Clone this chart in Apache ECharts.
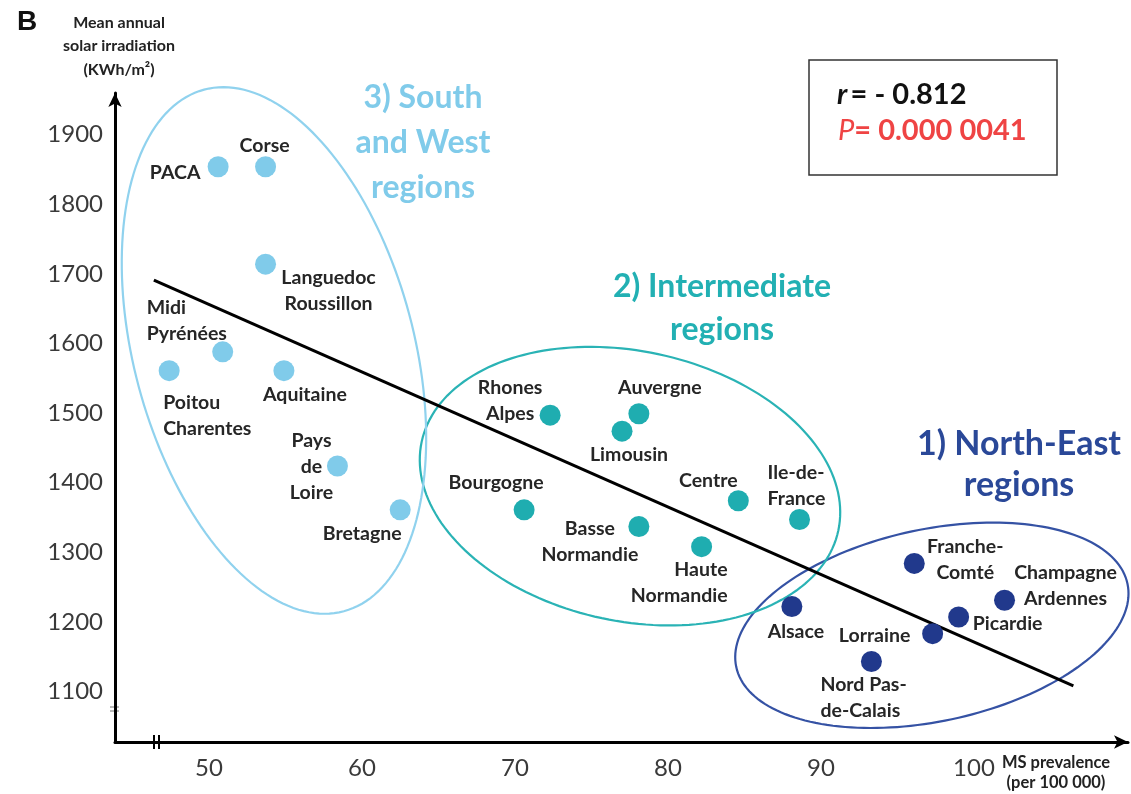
<!DOCTYPE html>
<html>
<head>
<meta charset="utf-8">
<script src="https://cdn.jsdelivr.net/npm/echarts@6/dist/echarts.min.js"></script>
<style>
  html, body { margin: 0; padding: 0; background: #ffffff; }
  #chart { width: 1131px; height: 794px; }
</style>
</head>
<body>
<div id="chart"></div>
<script>
// ---- Data: MS prevalence (per 100 000) vs mean annual solar irradiation (kWh/m²) ----
// 1) North-East regions
const neNames = ['Franche-\nComté', 'Alsace', 'Champagne\nArdennes', 'Picardie', 'Lorraine', 'Nord Pas-\nde-Calais'];
const nePrevalence = [96.1, 88.1, 102.0, 99.0, 97.3, 93.3];
const neIrradiation = [1284, 1222, 1231, 1207, 1183, 1143];

// 2) Intermediate regions
const midNames = ['Rhones\nAlpes', 'Auvergne', 'Limousin', 'Bourgogne', 'Basse\nNormandie', 'Haute\nNormandie', 'Centre', 'Ile-de-\nFrance'];
const midPrevalence = [72.3, 78.1, 77.0, 70.6, 78.1, 82.2, 84.6, 88.6];
const midIrradiation = [1497, 1499, 1474, 1361, 1337, 1308, 1374, 1347];

// 3) South and West regions
const swNames = ['PACA', 'Corse', 'Languedoc\nRoussillon', 'Midi\nPyrénées', 'Poitou\nCharentes', 'Aquitaine', 'Pays\nde\nLoire', 'Bretagne'];
const swPrevalence = [50.6, 53.7, 53.7, 50.9, 47.4, 54.9, 58.4, 62.5];
const swIrradiation = [1854, 1854, 1714, 1588, 1561, 1561, 1424, 1361];

// Regression line end points
const fitPrevalence = [46.4, 106.5];
const fitIrradiation = [1691, 1108];

// Correlation statistics
const statR = '- 0.812';
const statP = '0.000 0041';

// Tick labels
const xTicks = [50, 60, 70, 80, 90, 100];
const yTicks = [1100, 1200, 1300, 1400, 1500, 1600, 1700, 1800, 1900];

// Cluster outlines: centre in axis units
const clusterCentreX = [97.25, 77.52, 54.25];
const clusterCentreY = [1195, 1395, 1590];

// ---- Layout / styling ----
const FONT = 'Lato, "Open Sans", sans-serif';
const colNE = '#21398c', colMid = '#1fadb0', colSW = '#80cbea';
const outlineStyle = [
  { rx: 200, ry: 96, tilt: -12, color: '#3552a4' },
  { rx: 213, ry: 135, tilt: 12, color: '#2ab3b5' },
  { rx: 140, ry: 270, tilt: -15, color: '#90d2ee' }
];

// label placement per region: [align, dx, dy] relative to the dot centre
const labelPlacement = {
  'PACA': ['center', -43, 6],
  'Corse': ['center', -1, -21],
  'Languedoc\nRoussillon': ['center', 63, 27],
  'Midi\nPyrénées': ['left', -76, -31],
  'Poitou\nCharentes': ['left', -6, 45],
  'Aquitaine': ['center', 21, 24],
  'Pays\nde\nLoire': ['center', -26, 1],
  'Bretagne': ['center', -38, 24],
  'Rhones\nAlpes': ['center', -40, -14],
  'Auvergne': ['center', 21, -26],
  'Limousin': ['center', 7, 24],
  'Bourgogne': ['center', -28, -27],
  'Basse\nNormandie': ['center', -49, 15],
  'Haute\nNormandie': ['right', 26, 36],
  'Centre': ['center', -30, -20],
  'Ile-de-\nFrance': ['left', -32, -34],
  'Alsace': ['center', 4, 25],
  'Lorraine': ['center', -58, 2],
  'Nord Pas-\nde-Calais': ['left', -51, 36],
  'Franche-\nComté': ['center', 51, -4],
  'Champagne\nArdennes': ['center', 61, -15],
  'Picardie': ['center', 49, 7]
};

function buildPoints(names, xs, ys) {
  return names.map((n, i) => {
    const p = labelPlacement[n] || ['center', 0, -22];
    return {
      name: n,
      value: [xs[i], ys[i]],
      label: { position: 'inside', align: p[0], verticalAlign: 'middle', offset: [p[1], p[2]] }
    };
  });
}

function scatterSeries(names, xs, ys, color) {
  return {
    type: 'scatter',
    z: 4,
    symbol: 'circle',
    symbolSize: 21,
    itemStyle: { color: color, opacity: 1 },
    label: {
      show: true,
      formatter: '{b}',
      fontFamily: FONT,
      fontWeight: 'bold',
      fontSize: 19.5,
      lineHeight: 26,
      color: '#262626'
    },
    emphasis: { disabled: true },
    data: buildPoints(names, xs, ys)
  };
}

function outlineItem(params, api) {
  const o = outlineStyle[params.dataIndex];
  const c = api.coord([api.value(0), api.value(1)]);
  const t = o.tilt * Math.PI / 180;
  const pts = [];
  for (let i = 0; i <= 180; i++) {
    const a = i / 180 * Math.PI * 2;
    const ex = o.rx * Math.cos(a), ey = o.ry * Math.sin(a);
    pts.push([c[0] + ex * Math.cos(t) - ey * Math.sin(t), c[1] + ex * Math.sin(t) + ey * Math.cos(t)]);
  }
  return {
    type: 'polyline',
    shape: { points: pts },
    style: { fill: null, stroke: o.color, lineWidth: 2.2 },
    silent: true
  };
}

const chart = echarts.init(document.getElementById('chart'), null, { renderer: 'canvas' });

const axisLabelBase = { fontFamily: FONT, fontSize: 24, color: '#3a3a3a', hideOverlap: false, formatter: v => String(v) };

chart.setOption({
  animation: false,
  backgroundColor: '#ffffff',
  grid: { left: 115, right: 3, top: 93, bottom: 52, containLabel: false },
  xAxis: {
    type: 'value',
    min: 43.86,
    max: 110.07,
    axisLine: { show: true, onZero: false, lineStyle: { color: '#000', width: 3 }, symbol: ['none', 'arrow'], symbolSize: [10, 14] },
    axisTick: { show: false },
    splitLine: { show: false },
    axisLabel: Object.assign({ customValues: xTicks, margin: 14 }, axisLabelBase)
  },
  yAxis: {
    type: 'value',
    min: 1027.3,
    max: 1960,
    axisLine: { show: true, onZero: false, lineStyle: { color: '#000', width: 3 }, symbol: ['none', 'arrow'], symbolSize: [10, 14] },
    axisTick: { show: false },
    splitLine: { show: false },
    axisLabel: Object.assign({ customValues: yTicks, margin: 12 }, axisLabelBase)
  },
  series: [
    {
      type: 'custom',
      z: 1,
      renderItem: outlineItem,
      silent: true,
      data: clusterCentreX.map((x, i) => [x, clusterCentreY[i]])
    },
    {
      type: 'line',
      z: 2,
      symbol: 'none',
      silent: true,
      lineStyle: { color: '#000', width: 3 },
      data: fitPrevalence.map((x, i) => [x, fitIrradiation[i]])
    },
    scatterSeries(neNames, nePrevalence, neIrradiation, colNE),
    scatterSeries(midNames, midPrevalence, midIrradiation, colMid),
    scatterSeries(swNames, swPrevalence, swIrradiation, colSW)
  ],
  graphic: [
    // panel letter
    { type: 'text', x: 17, y: 22, style: { text: 'B', font: 'bold 28px Arial, "Liberation Sans", sans-serif', fill: '#111', verticalAlign: 'middle' } },
    // axis titles
    { type: 'text', x: 119, y: 46, style: { text: 'Mean annual\nsolar irradiation\n(KWh/m²)', fontFamily: FONT, fontWeight: 'bold', fontSize: 16, lineHeight: 23.5, fill: '#222', align: 'center', verticalAlign: 'middle' } },
    { type: 'text', x: 1056, y: 773, style: { text: 'MS prevalence\n(per 100 000)', fontFamily: FONT, fontWeight: 'bold', fontSize: 16.5, lineHeight: 20, fill: '#222', align: 'center', verticalAlign: 'middle' } },
    // axis break marks
    { type: 'line', shape: { x1: 154, y1: 735, x2: 154, y2: 749 }, style: { stroke: '#000', lineWidth: 2 } },
    { type: 'line', shape: { x1: 159, y1: 735, x2: 159, y2: 749 }, style: { stroke: '#000', lineWidth: 2 } },
    { type: 'line', shape: { x1: 110, y1: 707, x2: 119, y2: 707 }, style: { stroke: '#777', lineWidth: 1 } },
    { type: 'line', shape: { x1: 110, y1: 711, x2: 119, y2: 711 }, style: { stroke: '#777', lineWidth: 1 } },
    // cluster titles
    { type: 'text', x: 423, y: 143, style: { text: '3) South\nand West\nregions', fontFamily: FONT, fontWeight: 'bold', fontSize: 32, lineHeight: 45, fill: colSW, align: 'center', verticalAlign: 'middle' } },
    { type: 'text', x: 722, y: 308, style: { text: '2) Intermediate\nregions', fontFamily: FONT, fontWeight: 'bold', fontSize: 32, lineHeight: 43, fill: '#22b0b3', align: 'center', verticalAlign: 'middle' } },
    { type: 'text', x: 1019, y: 465, style: { text: '1) North-East\nregions', fontFamily: FONT, fontWeight: 'bold', fontSize: 34, lineHeight: 41, fill: '#2a4898', align: 'center', verticalAlign: 'middle' } },
    // statistics box
    { type: 'rect', shape: { x: 809, y: 60, width: 248, height: 115 }, style: { fill: '#fff', stroke: '#333', lineWidth: 1.5 } },
    { type: 'text', x: 837, y: 95, style: {
        text: '{i|r} {b|= ' + statR + '}',
        verticalAlign: 'middle',
        rich: {
          i: { fontFamily: FONT, fontWeight: 'bold', fontStyle: 'italic', fontSize: 29, fill: '#111' },
          b: { fontFamily: FONT, fontWeight: 'bold', fontSize: 29, fill: '#111' }
        } } },
    { type: 'text', x: 838, y: 131, style: {
        text: '{i|P}{b|= ' + statP + '}',
        verticalAlign: 'middle',
        rich: {
          i: { fontFamily: FONT, fontStyle: 'italic', fontSize: 29, fill: '#ef4444' },
          b: { fontFamily: FONT, fontWeight: 'bold', fontSize: 29, fill: '#ef4444' }
        } } }
  ]
});
</script>
</body>
</html>
